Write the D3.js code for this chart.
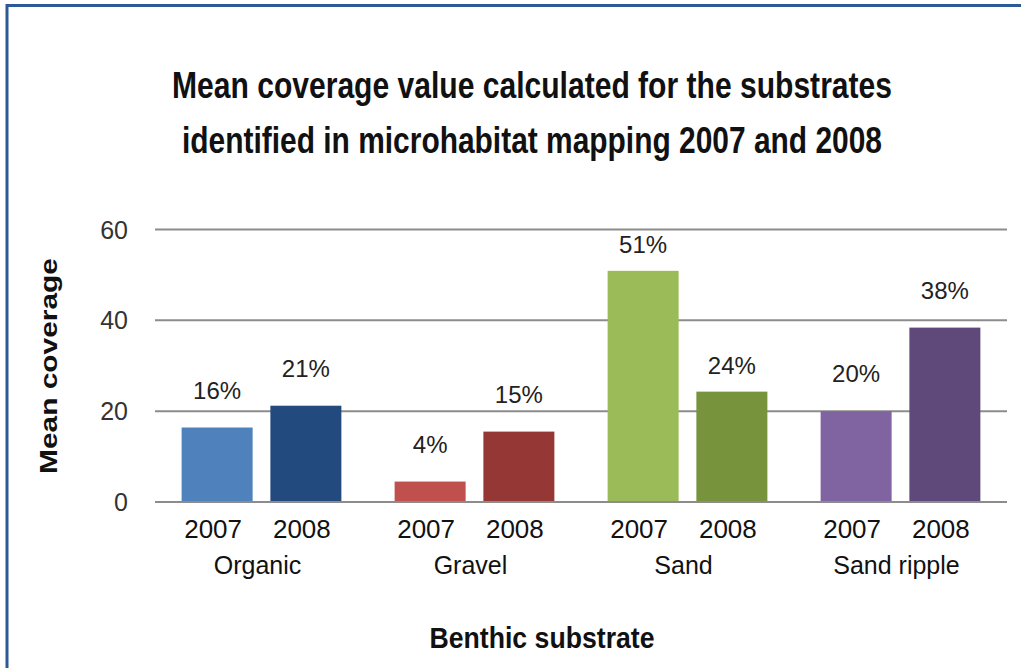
<!DOCTYPE html>
<html>
<head>
<meta charset="utf-8">
<script src="https://cdn.jsdelivr.net/npm/d3@7"></script>
<style>
  body { margin: 0; background: #fff; }
  text { font-family: "Liberation Sans", Arial, sans-serif; }
</style>
</head>
<body>
<script>
// substrates and survey years
const substrates = ["Organic", "Gravel", "Sand", "Sand ripple"];
const years = ["2007", "2008"];

// mean coverage per substrate, [2007, 2008]
const coverage2007 = [16.4, 4.5, 50.9, 20.0];
const coverage2008 = [21.2, 15.5, 24.3, 38.4];
const labels2007 = ["16%", "4%", "51%", "20%"];
const labels2008 = ["21%", "15%", "24%", "38%"];

const yTicks = [0, 20, 40, 60];

const colors = {
  "Organic": ["#4f81bd", "#234a7e"],
  "Gravel": ["#c0504d", "#953735"],
  "Sand": ["#9bbb59", "#77933c"],
  "Sand ripple": ["#8064a2", "#5f497a"]
};

const width = 1021;
const height = 668;
const margin = {left: 155, right: 14, top: 229.5, bottom: 166};

const svg = d3.select("body").append("svg")
  .attr("width", width)
  .attr("height", height);

// frame (only top and left edges show)
svg.append("line").attr("x1", 7).attr("x2", width).attr("y1", 5.5).attr("y2", 5.5)
  .style("stroke", "#2c5a94").style("stroke-width", 3);
svg.append("line").attr("x1", 7).attr("x2", 7).attr("y1", 4).attr("y2", height)
  .style("stroke", "#2c5a94").style("stroke-width", 3);

const x0 = d3.scaleBand()
  .domain(substrates)
  .range([margin.left, width - margin.right])
  .paddingInner(0)
  .paddingOuter(0);

const x1 = d3.scaleBand()
  .domain(years)
  .range([0, x0.bandwidth()])
  .paddingInner(0.2)
  .paddingOuter(0.3);

const y = d3.scaleLinear()
  .domain([0, 60])
  .range([height - margin.bottom, margin.top]);

// gridlines
svg.append("g")
  .selectAll("line")
  .data(yTicks)
  .enter()
  .append("line")
  .attr("x1", margin.left)
  .attr("x2", width - margin.right)
  .attr("y1", d => y(d))
  .attr("y2", d => y(d))
  .style("stroke", "#8c8c8c")
  .style("stroke-width", 2);

// y tick labels
svg.append("g")
  .selectAll("text")
  .data(yTicks)
  .enter()
  .append("text")
  .attr("x", 128)
  .attr("y", d => y(d) + 9)
  .attr("text-anchor", "end")
  .style("font-size", "25px")
  .style("fill", "#333")
  .text(d => d);

const bars = [];
substrates.forEach((s, i) => {
  bars.push({group: s, year: "2007", value: coverage2007[i], label: labels2007[i], color: colors[s][0]});
  bars.push({group: s, year: "2008", value: coverage2008[i], label: labels2008[i], color: colors[s][1]});
});

svg.append("g")
  .selectAll("rect")
  .data(bars)
  .enter()
  .append("rect")
  .attr("x", d => x0(d.group) + x1(d.year))
  .attr("width", x1.bandwidth())
  .attr("y", d => y(d.value))
  .attr("height", d => y(0) - y(d.value) - 1)
  .style("fill", d => d.color);

// value labels
const labelLift = d => d.group === "Sand" ? 18 : 29;
svg.append("g")
  .selectAll("text")
  .data(bars)
  .enter()
  .append("text")
  .attr("x", d => x0(d.group) + x1(d.year) + x1.bandwidth() / 2)
  .attr("y", d => y(d.value) - labelLift(d))
  .attr("text-anchor", "middle")
  .style("font-size", "24px")
  .style("fill", "#222")
  .text(d => d.label);

// year labels under bars
svg.append("g")
  .selectAll("text")
  .data(bars)
  .enter()
  .append("text")
  .attr("x", d => x0(d.group) + x1(d.year) + x1.bandwidth() / 2 - 4)
  .attr("y", 538)
  .attr("text-anchor", "middle")
  .style("font-size", "26px")
  .style("fill", "#111")
  .text(d => d.year);

// substrate labels
svg.append("g")
  .selectAll("text")
  .data(substrates)
  .enter()
  .append("text")
  .attr("x", d => x0(d) + x0.bandwidth() / 2 - 4)
  .attr("y", 574)
  .attr("text-anchor", "middle")
  .style("font-size", "25px")
  .style("fill", "#111")
  .text(d => d);

// title
const titleLines = [
  {text: "Mean coverage value calculated for the substrates", y: 98, len: 720},
  {text: "identified in microhabitat mapping 2007 and 2008", y: 153, len: 700}
];
svg.append("g")
  .selectAll("text")
  .data(titleLines)
  .enter()
  .append("text")
  .attr("x", 532)
  .attr("y", d => d.y)
  .attr("text-anchor", "middle")
  .attr("textLength", d => d.len)
  .attr("lengthAdjust", "spacingAndGlyphs")
  .style("font-family", "'Liberation Sans Narrow', 'Liberation Sans', Arial, sans-serif")
  .style("font-weight", "bold")
  .style("font-size", "36px")
  .style("fill", "#111")
  .text(d => d.text);

// axis titles
svg.append("text")
  .attr("transform", "translate(57,366) rotate(-90)")
  .attr("text-anchor", "middle")
  .attr("textLength", 216)
  .attr("lengthAdjust", "spacingAndGlyphs")
  .style("font-weight", "bold")
  .style("font-size", "23px")
  .style("fill", "#111")
  .text("Mean coverage");

svg.append("text")
  .attr("x", 542)
  .attr("y", 648)
  .attr("text-anchor", "middle")
  .attr("textLength", 225)
  .attr("lengthAdjust", "spacingAndGlyphs")
  .style("font-family", "'Liberation Sans Narrow', 'Liberation Sans', Arial, sans-serif")
  .style("font-weight", "bold")
  .style("font-size", "30px")
  .style("fill", "#111")
  .text("Benthic substrate");
</script>
</body>
</html>
